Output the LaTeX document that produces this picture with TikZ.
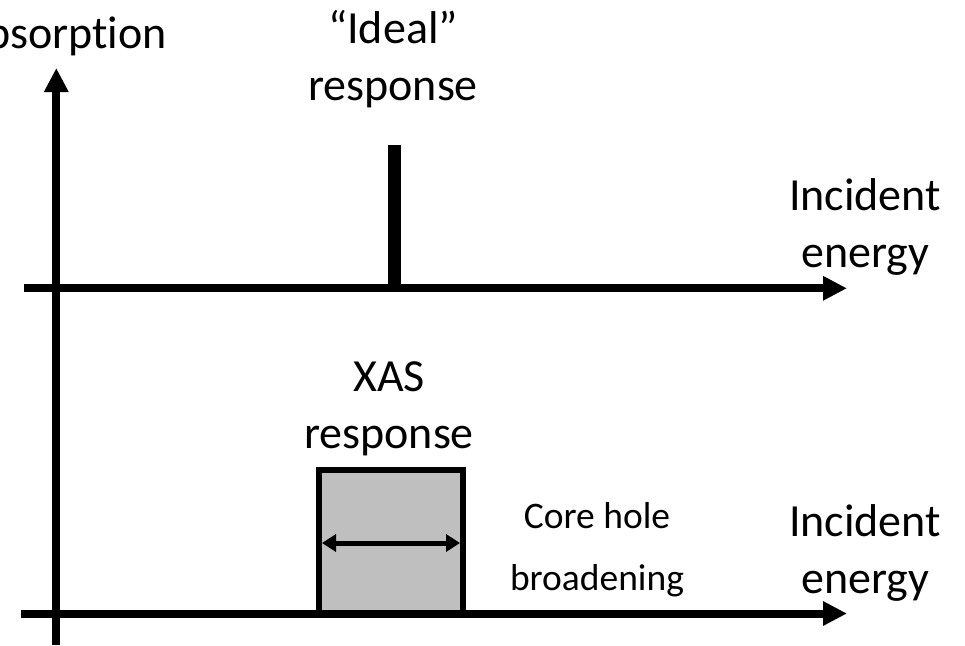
\documentclass[tikz,border=0pt]{standalone}
\usepackage{fontspec}
\setmainfont{Carlito}[Ligatures=NoCommon]
\usetikzlibrary{arrows.meta}
\begin{document}
\begin{tikzpicture}[x=1pt,y=-1pt,
  axis/.style={line width=8pt,-{Triangle[length=24pt,width=23pt]}},
  biglabel/.style={font=\fontsize{46}{57}\selectfont,align=center,inner sep=0pt},
  smalllabel/.style={font=\fontsize{37.5}{62}\selectfont,align=center,inner sep=0pt},
  respbox/.style={draw=black,line width=6pt,fill=black!25},
  widtharrow/.style={line width=5pt,{Triangle[length=14pt,width=17pt]}-{Triangle[length=14pt,width=17pt]}}
]
\useasboundingbox (0,0) rectangle (965,645);
% axes coordinates
\coordinate (ybot) at (56.3,645);
\coordinate (ytop) at (56.3,68);
\coordinate (aleft) at (24,288.3);
\coordinate (aright) at (847,288.3);
\coordinate (bleft) at (21,613.5);
\coordinate (bright) at (847,613.5);
% ideal response bar
\fill[black] (388,145) rectangle (401,288.3);
% XAS response box
\draw[respbox] (319,613.5) |- (463,470) -- (463,613.5);
\coordinate (wl) at (322,543);
\coordinate (wr) at (460,543);
\draw[widtharrow] (wl) -- (wr);
% axes
\draw[axis] (ybot) -- (ytop);
\draw[axis] (aleft) -- (aright);
\draw[axis] (bleft) -- (bright);
% labels (base = baseline of the last line)
\node[biglabel,anchor=base east] (absorption) at (167,48) {Absorption};
\node[biglabel,anchor=base] (ideal) at (393,100) {“Ideal”\\response};
\node[biglabel,anchor=base] (inc1) at (865,267) {Incident\\energy};
\node[biglabel,anchor=base] (xas) at (389,448) {XAS\\response};
\node[smalllabel,anchor=base] (core) at (597,590) {Core hole\\broadening};
\node[biglabel,anchor=base] (inc2) at (865,593) {Incident\\energy};
\end{tikzpicture}
\end{document}
